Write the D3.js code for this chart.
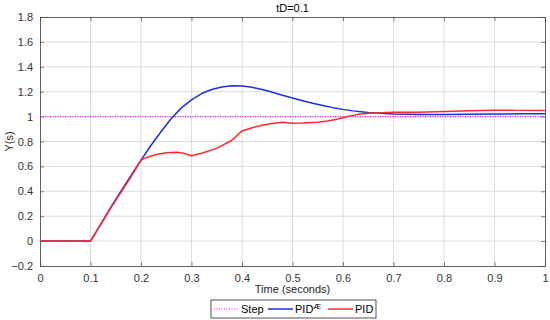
<!DOCTYPE html>
<html>
<head>
<meta charset="utf-8">
<script src="https://cdn.jsdelivr.net/npm/d3@7"></script>
<style>
  body { margin: 0; background: #fff; }
  text { font-family: "Liberation Sans", Arial, sans-serif; }
</style>
</head>
<body>
<svg id="chart" width="550" height="320"></svg>
<script>
// time points (s)
let tBlue = [0, 0.1, 0.12, 0.14, 0.16, 0.18, 0.2, 0.22, 0.24, 0.26, 0.28, 0.3, 0.32, 0.34, 0.36, 0.38, 0.4, 0.42, 0.44, 0.46, 0.48, 0.5, 0.52, 0.54, 0.56, 0.58, 0.6, 0.62, 0.65, 0.7, 0.75, 0.8, 0.85, 0.9, 0.95, 1.0];
let yBlue = [0, 0, 0.135, 0.27, 0.40, 0.525, 0.65, 0.77, 0.88, 0.985, 1.07, 1.135, 1.185, 1.218, 1.238, 1.247, 1.245, 1.235, 1.217, 1.195, 1.172, 1.15, 1.128, 1.107, 1.089, 1.072, 1.058, 1.046, 1.032, 1.021, 1.017, 1.017, 1.019, 1.021, 1.022, 1.022];

let tRed = [0, 0.1, 0.12, 0.14, 0.16, 0.18, 0.2, 0.21, 0.23, 0.25, 0.27, 0.285, 0.3, 0.32, 0.35, 0.38, 0.4, 0.42, 0.44, 0.46, 0.48, 0.5, 0.52, 0.55, 0.57, 0.59, 0.61, 0.63, 0.65, 0.7, 0.75, 0.8, 0.85, 0.9, 0.95, 1.0];
let yRed = [0, 0, 0.13, 0.265, 0.39, 0.515, 0.648, 0.67, 0.695, 0.71, 0.714, 0.705, 0.685, 0.705, 0.745, 0.81, 0.885, 0.91, 0.93, 0.945, 0.955, 0.946, 0.948, 0.954, 0.965, 0.98, 1.0, 1.018, 1.027, 1.034, 1.035, 1.04, 1.047, 1.052, 1.05, 1.048];

let tStep = [0, 1];
let yStep = [1, 1];

let xTicks = [0, 0.1, 0.2, 0.3, 0.4, 0.5, 0.6, 0.7, 0.8, 0.9, 1];
let yTicks = [-0.2, 0, 0.2, 0.4, 0.6, 0.8, 1, 1.2, 1.4, 1.6, 1.8];

let svg = d3.select("#chart"),
    margin = {top: 17, right: 5, bottom: 54, left: 40},
    width = 550 - margin.left - margin.right,
    height = 320 - margin.top - margin.bottom,
    g = svg.append("g").attr("transform", "translate(" + margin.left + "," + margin.top + ")");

let x = d3.scaleLinear().domain([0, 1]).range([0, width]);
let y = d3.scaleLinear().domain([-0.2, 1.8]).range([height, 0]);

// grid
g.append("g").selectAll("line").data(xTicks.slice(1, -1)).enter().append("line")
  .attr("x1", d => x(d)).attr("x2", d => x(d)).attr("y1", 0).attr("y2", height)
  .attr("stroke", "#dcdcdc").attr("stroke-width", 1);
g.append("g").selectAll("line").data(yTicks.slice(1, -1)).enter().append("line")
  .attr("y1", d => y(d)).attr("y2", d => y(d)).attr("x1", 0).attr("x2", width)
  .attr("stroke", "#dcdcdc").attr("stroke-width", 1);

// axes
let fmt = d => d3.format("")(d);
let xAxis = g.append("g").attr("transform", "translate(0," + height + ")")
  .call(d3.axisBottom(x).tickValues(xTicks).tickFormat(fmt).tickSizeInner(-4).tickSizeOuter(0).tickPadding(8));
let yAxis = g.append("g")
  .call(d3.axisLeft(y).tickValues(yTicks).tickFormat(fmt).tickSizeInner(-4).tickSizeOuter(0).tickPadding(7));
let xTop = g.append("g")
  .call(d3.axisTop(x).tickValues(xTicks).tickFormat("").tickSizeInner(-4).tickSizeOuter(0));
let yRight = g.append("g").attr("transform", "translate(" + width + ",0)")
  .call(d3.axisRight(y).tickValues(yTicks).tickFormat("").tickSizeInner(-4).tickSizeOuter(0));

[xAxis, yAxis, xTop, yRight].forEach(a => {
  a.select(".domain").attr("stroke", "#3a3a3a").attr("stroke-width", 0.8);
  a.selectAll(".tick line").attr("stroke", "#3a3a3a").attr("stroke-width", 0.6);
  a.selectAll("text").attr("fill", "#333").style("font-size", "11px");
});

// lines
let line = d3.line().x(d => x(d[0])).y(d => y(d[1]));

g.append("path").datum(d3.zip(tStep, yStep))
  .attr("fill", "none").attr("stroke", "#ff00ff").attr("stroke-width", 1.2)
  .attr("stroke-dasharray", "1,1.5").attr("d", line);

g.append("path").datum(d3.zip(tBlue, yBlue))
  .attr("fill", "none").attr("stroke", "#1a2fe0").attr("stroke-width", 1.5)
  .attr("stroke-linejoin", "round").attr("d", line);

g.append("path").datum(d3.zip(tRed, yRed))
  .attr("fill", "none").attr("stroke", "#ff2a2a").attr("stroke-width", 1.5)
  .attr("stroke-linejoin", "round").attr("d", line);

// title and labels
svg.append("text").attr("x", margin.left + width / 2).attr("y", 12)
  .attr("text-anchor", "middle").style("font-size", "11px").attr("fill", "#000").text("tD=0.1");

svg.append("text").attr("x", margin.left + width / 2).attr("y", 293)
  .attr("text-anchor", "middle").style("font-size", "11px").attr("fill", "#262626").text("Time (seconds)");

svg.append("text").attr("transform", "translate(13," + (margin.top + height / 2) + ") rotate(-90)")
  .attr("text-anchor", "middle").style("font-size", "11px").attr("fill", "#262626").text("Y(s)");

// legend
let legend = svg.append("g").attr("transform", "translate(211,300)");
legend.append("rect").attr("width", 165).attr("height", 18)
  .attr("fill", "#fff").attr("stroke", "#262626").attr("stroke-width", 0.8);

let items = [
  {label: "Step", color: "#ff00ff", dash: "1,1.5", x0: 3},
  {label: "PIDÆ", color: "#1a2fe0", dash: null, x0: 57},
  {label: "PID", color: "#ff2a2a", dash: null, x0: 117}
];
items.forEach(it => {
  legend.append("line").attr("x1", it.x0).attr("x2", it.x0 + 25).attr("y1", 9).attr("y2", 9)
    .attr("stroke", it.color).attr("stroke-width", it.dash ? 1.2 : 1.5)
    .attr("stroke-dasharray", it.dash);
  let t = legend.append("text").attr("x", it.x0 + 27).attr("y", 13)
    .style("font-size", "11px").attr("fill", "#000");
  if (it.label === "PIDÆ") {
    t.append("tspan").text("PID");
    t.append("tspan").attr("dy", -4).style("font-size", "8px").text("Æ");
  } else {
    t.text(it.label);
  }
});
</script>
</body>
</html>
